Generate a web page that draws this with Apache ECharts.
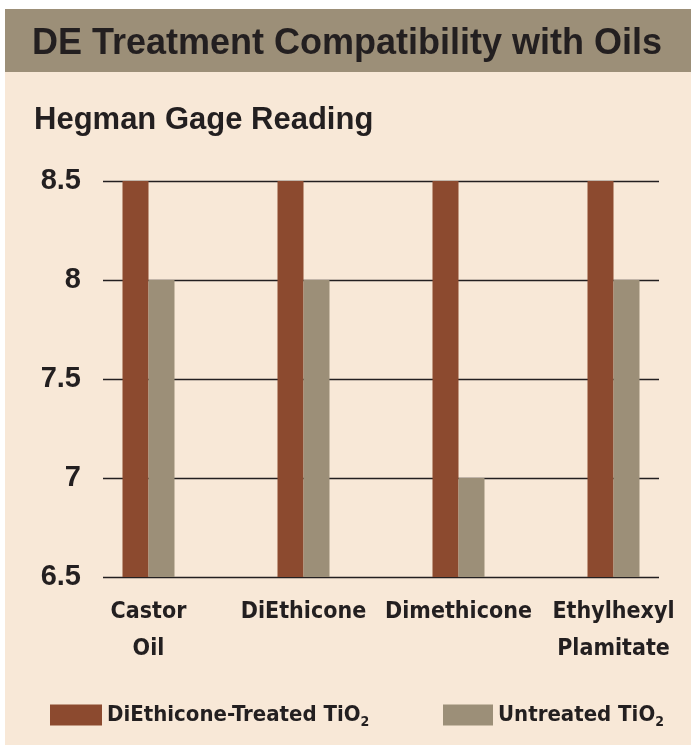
<!DOCTYPE html>
<html>
<head>
<meta charset="utf-8">
<script src="https://cdn.jsdelivr.net/npm/echarts@6/dist/echarts.min.js"></script>
<style>
  html, body { margin: 0; padding: 0; background: #fff; }
  #chart { width: 691px; height: 748px; }
</style>
</head>
<body>
<div id="chart"></div>
<script>
var oils = ['Castor\nOil', 'DiEthicone', 'Dimethicone', 'Ethylhexyl\nPlamitate'];
var treated = [8.5, 8.5, 8.5, 8.5];
var untreated = [8, 8, 7, 8];
var yTicks = [6.5, 7, 7.5, 8, 8.5];

var ink = '#231f20';
var rust = '#8c4a2f';
var taupe = '#9c8f78';
var cream = '#f8e8d7';
var sans = '"Liberation Sans", Arial, sans-serif';
var narrow = '"DejaVu Sans Condensed", "Liberation Sans Narrow", sans-serif';

var chart = echarts.init(document.getElementById('chart'));

var legendText = {
    fontFamily: narrow, fontWeight: 'bold', fontSize: 22, color: ink,
    rich: {
        sub: { fontFamily: narrow, fontWeight: 'bold', fontSize: 14, color: ink, padding: [15, 0, 0, 0] }
    }
};

var option = {
    backgroundColor: '#fff',
    animation: false,
    graphic: [
        { type: 'rect', shape: { x: 5, y: 72, width: 686, height: 673 }, style: { fill: cream }, z: -10 },
        { type: 'rect', shape: { x: 5, y: 9, width: 686, height: 63 }, style: { fill: taupe }, z: -10 }
    ],
    title: [{
        text: 'DE Treatment Compatibility with Oils',
        left: 27, top: 21,
        textStyle: { fontFamily: sans, fontWeight: 'bold', fontSize: 36, color: ink }
    }, {
        text: 'Hegman Gage Reading',
        left: 29, top: 100,
        textStyle: { fontFamily: sans, fontWeight: 'bold', fontSize: 31, color: ink }
    }],
    legend: [{
        top: 699, left: 45,
        itemWidth: 52, itemHeight: 21, itemGap: 10,
        icon: 'rect',
        data: ['treated'],
        formatter: function () { return 'DiEthicone-Treated TiO{sub|2}'; },
        textStyle: legendText
    }, {
        top: 699, left: 438,
        itemWidth: 50, itemHeight: 21, itemGap: 10,
        icon: 'rect',
        data: ['untreated'],
        formatter: function () { return 'Untreated TiO{sub|2}'; },
        textStyle: legendText
    }],
    grid: [
        { left: 103, right: 32, top: 181, bottom: 171 },
        { left: 71, width: 626, top: 181, bottom: 171 }
    ],
    xAxis: [{
        type: 'value', gridIndex: 0, show: false, min: 0, max: 1
    }, {
        type: 'category', gridIndex: 1, data: oils,
        axisLine: { show: false }, axisTick: { show: false },
        axisLabel: {
            fontFamily: narrow, fontWeight: 'bold', fontSize: 23, color: ink,
            margin: 17, lineHeight: 37, interval: 0
        }
    }],
    yAxis: [{
        type: 'value', gridIndex: 0, min: 6.5, max: 8.5, interval: 0.5,
        axisLine: { show: false }, axisTick: { show: false },
        splitLine: { lineStyle: { color: ink, width: 1.3 } },
        axisLabel: {
            fontFamily: sans, fontWeight: 'bold', fontSize: 29, color: ink,
            margin: 22,
            formatter: function (v) { return yTicks.indexOf(v) >= 0 ? String(v) : ''; }
        }
    }, {
        type: 'value', gridIndex: 1, min: 6.5, max: 8.5, show: false
    }],
    series: [{
        name: 'treated', type: 'bar', xAxisIndex: 1, yAxisIndex: 1,
        data: treated, barWidth: 26, barGap: '0%',
        itemStyle: { color: rust }, z: 5
    }, {
        name: 'untreated', type: 'bar', xAxisIndex: 1, yAxisIndex: 1,
        data: untreated, barWidth: 26, barGap: '0%',
        itemStyle: { color: taupe }, z: 5
    }]
};

chart.setOption(option);
</script>
</body>
</html>
